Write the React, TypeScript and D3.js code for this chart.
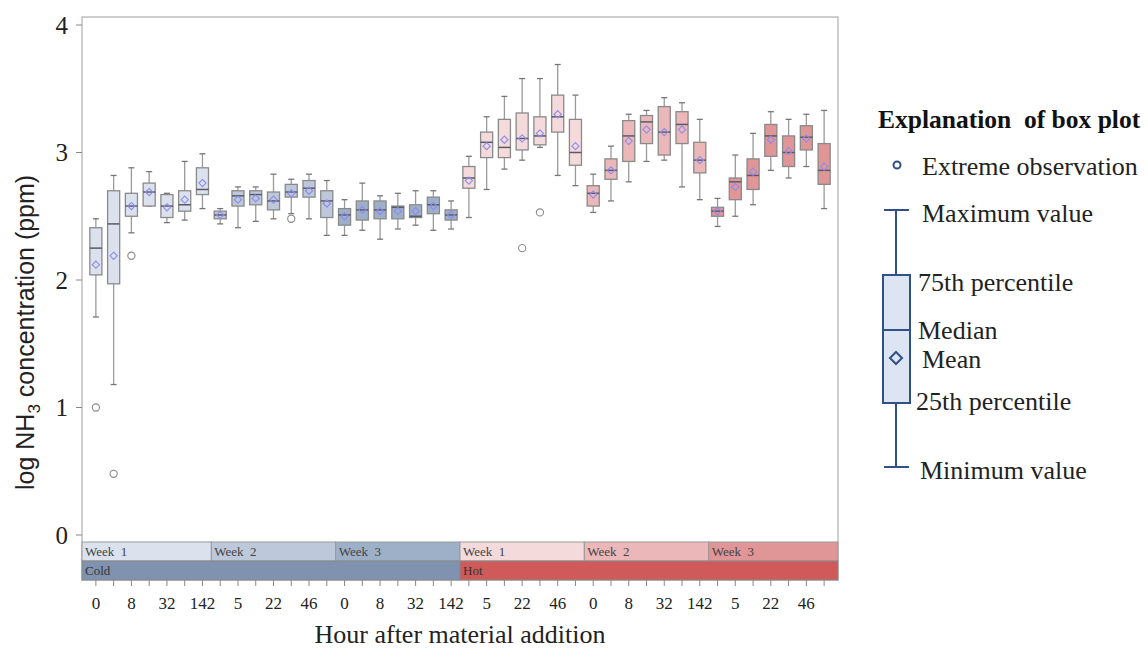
import React from "react";
import * as d3 from "d3";

// ---------- data ----------
const hours = ["0", "5", "8", "22", "32", "46", "142"];
const weekLabels = ["Week  1", "Week  2", "Week  3", "Week  1", "Week  2", "Week  3"];
const tempLabels = ["Cold", "Hot"];
const yTicks = [0, 1, 2, 3, 4];

const maxVals = [
  2.48, 2.82, 2.88, 2.85, 2.68, 2.93, 2.99,
  2.56, 2.73, 2.73, 2.83, 2.79, 2.83, 2.78,
  2.63, 2.76, 2.66, 2.68, 2.70, 2.70, 2.62,
  2.97, 3.28, 3.44, 3.58, 3.58, 3.69, 3.45,
  2.83, 3.05, 3.30, 3.33, 3.43, 3.39, 3.26,
  2.64, 2.98, 3.15, 3.32, 3.26, 3.30, 3.33,
];
const q3Vals = [
  2.41, 2.70, 2.68, 2.76, 2.67, 2.70, 2.88,
  2.54, 2.70, 2.70, 2.69, 2.75, 2.78, 2.70,
  2.56, 2.62, 2.62, 2.58, 2.59, 2.65, 2.55,
  2.89, 3.16, 3.26, 3.31, 3.28, 3.45, 3.26,
  2.74, 2.95, 3.25, 3.29, 3.36, 3.32, 3.08,
  2.57, 2.80, 2.95, 3.22, 3.13, 3.21, 3.07,
];
const medianVals = [
  2.25, 2.44, 2.58, 2.69, 2.58, 2.59, 2.71,
  2.51, 2.66, 2.67, 2.62, 2.69, 2.72, 2.62,
  2.51, 2.55, 2.55, 2.57, 2.50, 2.59, 2.51,
  2.80, 3.08, 3.04, 3.11, 3.13, 3.28, 3.00,
  2.68, 2.86, 3.13, 3.24, 3.16, 3.22, 2.94,
  2.54, 2.77, 2.82, 3.13, 3.00, 3.12, 2.86,
];
const meanVals = [
  2.12, 2.19, 2.58, 2.69, 2.57, 2.63, 2.76,
  2.51, 2.63, 2.64, 2.63, 2.68, 2.70, 2.60,
  2.50, 2.55, 2.54, 2.54, 2.54, 2.58, 2.51,
  2.78, 3.05, 3.10, 3.11, 3.15, 3.30, 3.05,
  2.67, 2.86, 3.09, 3.18, 3.16, 3.18, 2.94,
  2.54, 2.73, 2.85, 3.10, 3.01, 3.11, 2.89,
];
const q1Vals = [
  2.04, 1.97, 2.50, 2.58, 2.49, 2.54, 2.67,
  2.48, 2.58, 2.59, 2.55, 2.65, 2.65, 2.49,
  2.43, 2.47, 2.48, 2.48, 2.49, 2.52, 2.47,
  2.72, 2.96, 2.96, 3.02, 3.06, 3.16, 2.90,
  2.58, 2.79, 2.93, 3.07, 2.98, 3.07, 2.84,
  2.50, 2.63, 2.71, 2.97, 2.89, 3.02, 2.75,
];
const minVals = [
  1.71, 1.18, 2.37, 2.58, 2.45, 2.47, 2.56,
  2.44, 2.41, 2.46, 2.48, 2.52, 2.48, 2.35,
  2.35, 2.39, 2.32, 2.40, 2.43, 2.39, 2.40,
  2.49, 2.71, 2.87, 2.94, 3.04, 2.82, 2.74,
  2.53, 2.62, 2.77, 2.93, 2.94, 2.73, 2.63,
  2.42, 2.50, 2.59, 2.86, 2.80, 2.89, 2.56,
];
const outlierIdx = [0, 1, 2, 11, 24, 25];
const outlierVals = [1.0, 0.48, 2.19, 2.48, 2.25, 2.53];

const weekFills = ["#dbe2ed", "#bdc8da", "#9eafc8", "#f4dadb", "#ecb7b8", "#e09596"];
const tempFills = ["#7f93b1", "#d05a5a"];

const W = 1148;
const H = 648;
const frameL = 82, frameR = 838, frameT = 17;
const band1T = 542, band2T = 561, band2B = 580;
const serif = "'Times New Roman', 'Liberation Serif', serif";
const sans = "Arial, 'Liberation Sans', sans-serif";

export default function App() {
  const n = maxVals.length;
  const idx = d3.range(n);
  const x = d3.scaleBand<number>().domain(idx).range([87, 833]).paddingInner(0.32).paddingOuter(0.16);
  const bw = x.bandwidth();
  const cx = (i: number) => (x(i) as number) + bw / 2;
  const y = d3.scaleLinear().domain([0, 4]).range([535, 25]);
  const step = x.step();
  const groupStart = (g: number) => (g === 0 ? frameL : cx(g * 7) - step / 2);
  const groupEnd = (g: number, size: number) => (g + size >= n ? frameR : cx(g + size - 1) + step / 2);

  const diamond = (px: number, py: number, r: number) =>
    `M${px},${py - r}L${px + r},${py}L${px},${py + r}L${px - r},${py}Z`;

  const legendFs = 26;

  return (
    <svg width={W} height={H} style={{ position: "absolute", left: 0, top: 0, background: "#fff" }}>
      {/* frame */}
      <rect x={frameL} y={frameT} width={frameR - frameL} height={band2B - frameT} fill="none" stroke="#b0b0b0" strokeWidth={1.2} />

      {/* y axis */}
      {yTicks.map((t) => (
        <g key={t}>
          <line x1={76} x2={frameL} y1={y(t)} y2={y(t)} stroke="#888" />
          <text x={68} y={y(t)} dy="0.35em" textAnchor="end" fontFamily={serif} fontSize={25} fill="#222">
            {t}
          </text>
        </g>
      ))}
      <text
        transform={`translate(34,490) rotate(-90)`}
        textAnchor="start"
        fontFamily={sans}
        fontSize={25}
        fill="#222"
      >
        log NH<tspan fontSize={17} dy={6}>3</tspan>
        <tspan dy={-6}> concentration (ppm)</tspan>
      </text>

      {/* boxes */}
      {idx.map((i) => {
        const g = Math.floor(i / 7);
        const c = cx(i);
        const x0 = x(i) as number;
        const cap = 3;
        return (
          <g key={i}>
            <line x1={c} x2={c} y1={y(maxVals[i])} y2={y(q3Vals[i])} stroke="#9a9a9a" strokeWidth={1.3} />
            <line x1={c} x2={c} y1={y(q1Vals[i])} y2={y(minVals[i])} stroke="#9a9a9a" strokeWidth={1.3} />
            <line x1={c - cap} x2={c + cap} y1={y(maxVals[i])} y2={y(maxVals[i])} stroke="#777" strokeWidth={1.3} />
            <line x1={c - cap} x2={c + cap} y1={y(minVals[i])} y2={y(minVals[i])} stroke="#777" strokeWidth={1.3} />
            <rect
              x={x0}
              y={y(q3Vals[i])}
              width={bw}
              height={y(q1Vals[i]) - y(q3Vals[i])}
              fill={weekFills[g]}
              stroke="#8a8a8a"
              strokeWidth={1.3}
            />
            <line x1={x0} x2={x0 + bw} y1={y(medianVals[i])} y2={y(medianVals[i])} stroke="#5a5a66" strokeWidth={1.5} />
            <path d={diamond(c, y(meanVals[i]), 3.6)} fill="none" stroke="#8c8cf0" strokeWidth={1.1} />
          </g>
        );
      })}
      {outlierIdx.map((oi, k) => (
        <circle key={k} cx={cx(oi)} cy={y(outlierVals[k])} r={3.6} fill="none" stroke="#8a8a8a" strokeWidth={1.1} />
      ))}

      {/* band rows */}
      {weekLabels.map((lab, g) => {
        const s = groupStart(g);
        const e = groupEnd(g * 7, 7);
        return (
          <g key={g}>
            <rect x={s} y={band1T} width={e - s} height={band2T - band1T} fill={weekFills[g]} stroke="#999" strokeWidth={1} />
            <text x={s + 3} y={band1T + 14} fontFamily={serif} fontSize={13} fill="#444" style={{ whiteSpace: "pre" }}>
              {lab}
            </text>
          </g>
        );
      })}
      {tempLabels.map((lab, t) => {
        const s = t === 0 ? frameL : groupStart(t * 3);
        const e = t === 0 ? groupStart(3) : frameR;
        return (
          <g key={lab}>
            <rect x={s} y={band2T} width={e - s} height={band2B - band2T} fill={tempFills[t]} stroke="#888" strokeWidth={1} />
            <text x={s + 3} y={band2T + 14} fontFamily={serif} fontSize={13} fill="#333">
              {lab}
            </text>
          </g>
        );
      })}

      {/* x ticks */}
      {idx.map((i) => (
        <g key={i}>
          <line x1={cx(i)} x2={cx(i)} y1={band2B} y2={band2B + 6} stroke="#888" />
          {i % 2 === 0 && (
            <text x={cx(i)} y={609} textAnchor="middle" fontFamily={serif} fontSize={17} fill="#222">
              {hours[i % 7]}
            </text>
          )}
        </g>
      ))}
      <text x={460} y={643} textAnchor="middle" fontFamily={serif} fontSize={26} fill="#222">
        Hour after material addition
      </text>

      {/* legend */}
      <text x={878} y={128} fontFamily={serif} fontSize={25.5} fontWeight="bold" fill="#111" style={{ whiteSpace: "pre" }}>
        {"Explanation  of box plot"}
      </text>
      <circle cx={897} cy={165} r={3.5} fill="none" stroke="#2f5088" strokeWidth={2} />
      <text x={922} y={175} fontFamily={serif} fontSize={legendFs} fill="#222">Extreme observation</text>
      <line x1={896} x2={896} y1={210} y2={467} stroke="#2f5088" strokeWidth={2} />
      <line x1={884} x2={909} y1={210} y2={210} stroke="#2f5088" strokeWidth={2} />
      <line x1={884} x2={909} y1={467} y2={467} stroke="#2f5088" strokeWidth={2} />
      <rect x={883} y={275} width={27} height={128} fill="#dce5f1" stroke="#2f5088" strokeWidth={2} />
      <line x1={883} x2={910} y1={330} y2={330} stroke="#2f5088" strokeWidth={2} />
      <path d={diamond(896, 358, 6)} fill="none" stroke="#2f5088" strokeWidth={2} />
      <text x={922} y={222} fontFamily={serif} fontSize={legendFs} fill="#222">Maximum value</text>
      <text x={918} y={291} fontFamily={serif} fontSize={legendFs} fill="#222">75th percentile</text>
      <text x={918} y={339} fontFamily={serif} fontSize={legendFs} fill="#222">Median</text>
      <text x={922} y={368} fontFamily={serif} fontSize={legendFs} fill="#222">Mean</text>
      <text x={916} y={410} fontFamily={serif} fontSize={legendFs} fill="#222">25th percentile</text>
      <text x={920} y={479} fontFamily={serif} fontSize={legendFs} fill="#222">Minimum value</text>
    </svg>
  );
}
